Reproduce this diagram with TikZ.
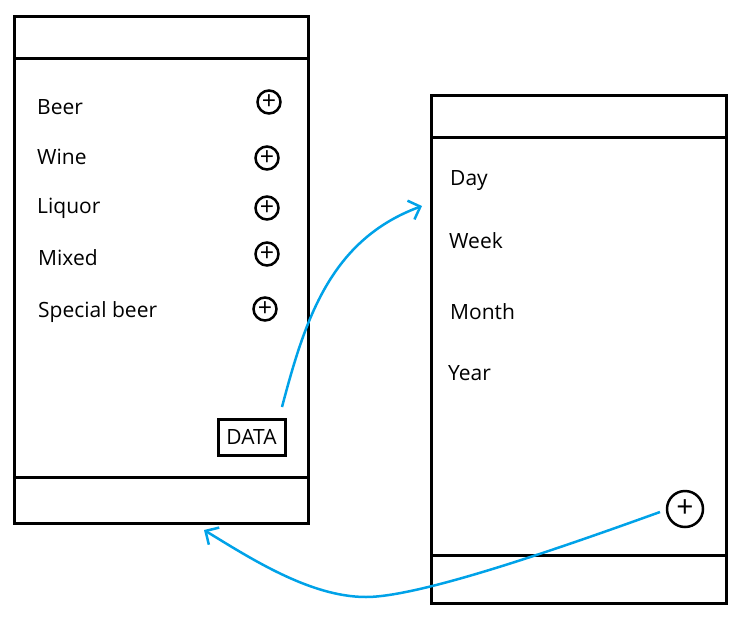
\documentclass[tikz,border=0pt]{standalone}
\usepackage{fontspec}
\setmainfont{Open Sans}
\usetikzlibrary{arrows.meta}
\definecolor{arrowblue}{HTML}{00A2E8}
\tikzset{
  panel/.style={draw=black, line width=3pt, rectangle, inner sep=0pt, anchor=north west},
  sep/.style={draw=black, line width=3pt},
  label/.style={anchor=base west, inner sep=0pt, font=\fontsize{21}{24}\selectfont},
  pluscirc/.style={draw=black, line width=2.5pt, circle, minimum size=#1, inner sep=0pt, font=\fontsize{25}{26}\selectfont},
  databox/.style={draw=black, line width=3pt, rectangle, minimum width=67pt, minimum height=36pt, inner sep=0pt, font=\fontsize{21}{24}\selectfont},
  flow/.style={draw=arrowblue, line width=2.5pt, -{Straight Barb[length=10pt, width=20pt, line width=2.5pt]}}
}
\begin{document}
\begin{tikzpicture}[x=1pt,y=-1pt]
\useasboundingbox (0,0) rectangle (739,619);
% left panel
\node[panel, minimum width=294pt, minimum height=507pt] (L) at (13,15) {};
\draw[sep] (13,58) -- (307,58);
\draw[sep] (13,477) -- (307,477);
\node[label] (beer) at (37,114) {Beer};
\node[label] (wine) at (37,164) {Wine};
\node[label] (liquor) at (37,213) {Liquor};
\node[label] (mixed) at (38,265) {Mixed};
\node[label] (special) at (38,317) {Special beer};
\node[pluscirc=23pt] (p1) at (269,102) {+};
\node[pluscirc=23pt] (p2) at (267,158) {+};
\node[pluscirc=23pt] (p3) at (267,208) {+};
\node[pluscirc=23pt] (p4) at (267,254) {+};
\node[pluscirc=23pt] (p5) at (265,309) {+};
\node[databox] (data) at (251.5,437) {DATA};
% right panel
\node[panel, minimum width=295pt, minimum height=508pt] (R) at (430,94) {};
\draw[sep] (430,137) -- (725,137);
\draw[sep] (430,555) -- (725,555);
\node[label] (day) at (450,185) {Day};
\node[label] (week) at (449,248) {Week};
\node[label] (month) at (450,319) {Month};
\node[label] (year) at (448,380) {Year};
\node[pluscirc=36pt, font=\fontsize{30}{30}\selectfont] (big) at (685,509) {+};
% connectors
\coordinate (a1s) at (282,407);
\coordinate (a1e) at (422,206);
\draw[flow] (a1s) .. controls (305,320) and (330,240) .. (a1e);
\coordinate (a2s) at (660,512);
\coordinate (a2m) at (366,597);
\coordinate (a2e) at (204,530);
\draw[flow] (a2s) .. controls (560,548) and (420,597) .. (a2m) .. controls (310,597) and (250,558) .. (a2e);
\end{tikzpicture}
\end{document}
